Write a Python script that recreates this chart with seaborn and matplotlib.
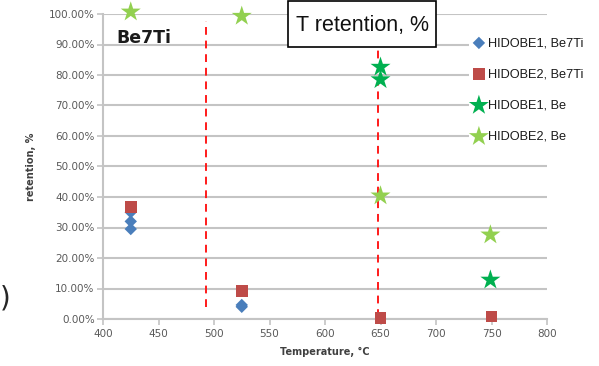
import matplotlib
matplotlib.use("Agg")
import matplotlib.pyplot as plt
import seaborn as sns
import pandas as pd
from matplotlib.patches import Rectangle
from matplotlib.ticker import PercentFormatter, MultipleLocator

sns.set_theme(style="white")
plt.rcParams['font.family'] = ['DejaVu Sans']

# Data (retention as fraction)
h1_be7ti_T = [425, 425, 425, 525, 525]
h1_be7ti_R = [0.35, 0.32, 0.295, 0.046, 0.040]
h2_be7ti_T = [425, 525, 650, 750]
h2_be7ti_R = [0.367, 0.092, 0.004, 0.008]
h1_be_T = [650, 650, 749]
h1_be_R = [0.826, 0.785, 0.128]
h2_be_T = [425, 525, 650, 749]
h2_be_R = [1.007, 0.993, 0.404, 0.276]
labels = ["HIDOBE1, Be7Ti", "HIDOBE2, Be7Ti", "HIDOBE1, Be", "HIDOBE2, Be"]
xticks = [400, 450, 500, 550, 600, 650, 700, 750, 800]

fig = plt.figure(figsize=(5.99, 3.66), dpi=100)
ax = fig.add_axes([103/599, 1-319/366, (547-103)/599, (319-14)/366])

gcol = "#c4c4c4"
ax.set_axisbelow(True)
ax.yaxis.grid(True, color=gcol, lw=1.5)
ax.xaxis.grid(False)

# dashed red lines
ax.plot([493, 493], [0.04, 0.976], ls=(0, (4, 3)), color="#ff1a1a", lw=1.4, zorder=1)
ax.plot([648, 648], [0.006, 0.89], ls=(0, (4, 3)), color="#ff1a1a", lw=1.4, zorder=1)

series = [
    (h1_be7ti_T, h1_be7ti_R, "D", "#4a7ebb", 40, labels[0]),
    (h2_be7ti_T, h2_be7ti_R, "s", "#be4b48", 70, labels[1]),
    (h1_be_T, h1_be_R, "*", "#00b050", 230, labels[2]),
    (h2_be_T, h2_be_R, "*", "#92d050", 230, labels[3]),
]
for xs, ys, m, c, s, lab in series:
    df = pd.DataFrame({"T": xs, "R": ys})
    sns.scatterplot(data=df, x="T", y="R", marker=m, color=c, s=s, ax=ax,
                    edgecolor="none", label=lab, clip_on=False, zorder=3)

ax.set_xlim(400, 800)
ax.set_ylim(0, 1.0)
ax.set_xticks(xticks)
ax.yaxis.set_major_locator(MultipleLocator(0.1))
ax.yaxis.set_major_formatter(PercentFormatter(1.0, decimals=2))
for sp in ["top", "right"]:
    ax.spines[sp].set_visible(False)
ax.spines["left"].set_color(gcol)
ax.spines["left"].set_linewidth(1.5)
ax.spines["bottom"].set_color(gcol)
ax.spines["bottom"].set_linewidth(1.5)
ax.tick_params(axis="x", bottom=True, length=4, width=1.2, color=gcol,
               labelsize=7.5, labelcolor="#595959", pad=3)
ax.tick_params(axis="y", left=True, length=4, width=1.2, color=gcol,
               labelsize=7.5, labelcolor="#595959", pad=2)

ax.set_xlabel("Temperature, °C", fontsize=7, fontweight="bold", color="#404040", labelpad=6)
ax.set_ylabel("retention, %", fontsize=7, fontweight="bold", color="#404040", labelpad=9)

leg = ax.legend(loc="upper left", bbox_to_anchor=(469/599, 1-36/366), bbox_transform=fig.transFigure,
                frameon=True, facecolor="white", edgecolor="none", framealpha=1.0, fancybox=False,
                handletextpad=0.0, labelspacing=1.5, borderpad=0.1,
                borderaxespad=0, handlelength=1.35,
                prop={"family": "Liberation Sans", "size": 9.2})
leg.set_zorder(5)
for t in leg.get_texts():
    t.set_color("#1a1a1a")

fig.text(116/599, 1-38/366, "Be7Ti", fontsize=12.5, fontweight="bold", color="#1a1a1a", va="center")
fig.patches.append(Rectangle((288/599, 1-47/366), (436-288)/599, (47-1)/366,
                             transform=fig.transFigure, facecolor="white",
                             edgecolor="black", lw=1.2, zorder=6))
fig.text(362/599, 1-25/366, "T retention, %", fontsize=15.5, ha="center", va="center",
         family="Liberation Sans", color="#111111", zorder=7)
fig.text(0.0, 1-298/366, ")", fontsize=20, va="center", ha="left")

fig.savefig("out.png", dpi=100)
